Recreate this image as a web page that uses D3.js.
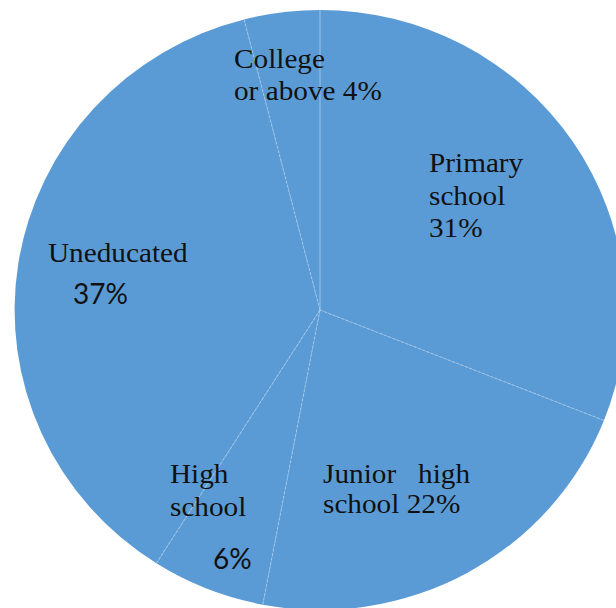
<!DOCTYPE html>
<html>
<head>
<meta charset="utf-8">
<script src="https://cdn.jsdelivr.net/npm/d3@7"></script>
<style>
  html, body { margin: 0; padding: 0; background: #fff; }
  svg { display: block; }
</style>
</head>
<body>
<svg id="chart" width="616" height="608"></svg>
<script>
// Education level shares (%), clockwise from 12 o'clock
const categories = ["Primary school", "Junior high school", "High school", "Uneducated", "College or above"];
const shares = [31, 22, 6, 37, 4];

// How each label is broken into lines; "{v}" is replaced with the share
const labelLines = [
  ["Primary", "school", "{v}%"],
  ["Junior\u00a0\u00a0 high", "school {v}%"],
  ["High", "school", "{v}%"],
  ["Uneducated", "{v}%"],
  ["College", "or above {v}%"]
];

// Label placement: left x, first baseline, line step; and which lines use the sans face
const labelLayout = [
  { x: 429, y: 172, step: 32.5, sans: [], sansX: null, sansY: null },
  { x: 323, y: 483, step: 30,   sans: [], sansX: null, sansY: null },
  { x: 170, y: 483, step: 33,   sans: [2], sansX: 213, sansY: 569 },
  { x: 48,  y: 262, step: 42,   sans: [1], sansX: 73,  sansY: 304 },
  { x: 234, y: 68,  step: 32,   sans: [], sansX: null, sansY: null }
];

const svg = d3.select("#chart");
const cx = 320, cy = 310, r = 300, sx = 1.018;

const pie = d3.pie().sort(null).value(d => d)(shares);
const arc = d3.arc().innerRadius(0).outerRadius(r);

const g = svg.append("g").attr("transform", `translate(${cx},${cy}) scale(${sx},1)`);

g.selectAll("path.slice")
  .data(pie)
  .join("path")
  .attr("class", "slice")
  .attr("d", arc)
  .attr("fill", "#5b9bd5");

// Light separators between slices
g.selectAll("line.sep")
  .data(pie)
  .join("line")
  .attr("class", "sep")
  .attr("x1", 0).attr("y1", 0)
  .attr("x2", d => r * Math.sin(d.startAngle))
  .attr("y2", d => -r * Math.cos(d.startAngle))
  .attr("stroke", "#a9cbea")
  .attr("stroke-width", 1)
  .attr("stroke-dasharray", (d, i) => i === 0 ? null : "3,1.5")
  .attr("opacity", 0.8);

// Labels (serif lines slightly widened)
const labels = svg.append("g");
categories.forEach((c, i) => {
  const lay = labelLayout[i];
  labelLines[i].forEach((ln, j) => {
    const txt = ln.replace("{v}", shares[i]);
    const isSans = lay.sans.includes(j);
    const x = isSans ? lay.sansX : lay.x;
    const y = isSans ? lay.sansY : lay.y + j * lay.step;
    labels.append("text")
      .attr("transform", `translate(${x},${y}) scale(${isSans ? 1 : 1.045},1)`)
      .attr("font-family", isSans ? "Lato, 'Open Sans', sans-serif" : "'Liberation Serif', 'Times New Roman', serif")
      .attr("font-size", 28)
      .attr("fill", "#111")
      .style("white-space", "pre")
      .text(txt);
  });
});
</script>
</body>
</html>
